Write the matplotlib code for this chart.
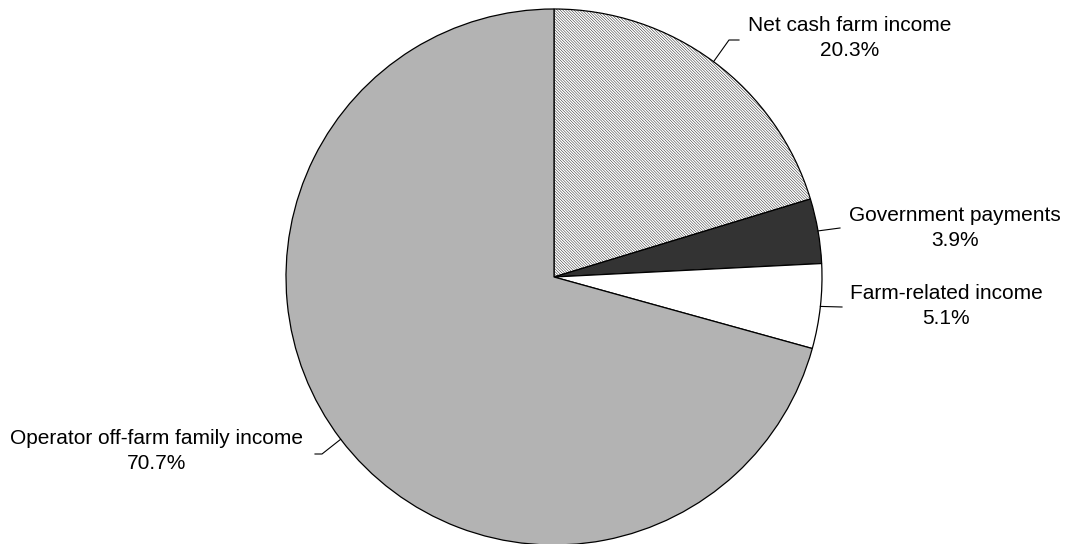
import numpy as np
import matplotlib
matplotlib.use("Agg")
import matplotlib.pyplot as plt

plt.rcParams['font.family'] = ['Liberation Sans', 'DejaVu Sans']
plt.rcParams['hatch.color'] = '#9a9a9a'
plt.rcParams['hatch.linewidth'] = 0.3

categories = ["Net cash farm income", "Government payments", "Farm-related income",
              "Operator off-farm family income"]
values = [20.3, 3.9, 5.1, 70.7]
colors = ["white", "#333333", "white", "#b3b3b3"]
hatches = ["\\" * 12, None, None, None]

W, H = 1066, 544
fig = plt.figure(figsize=(10.66, 5.44), dpi=100)
ax = fig.add_axes([0, 0, 1, 1])

cx, cy, R = 554, H - 277, 268
wedges, _ = ax.pie(values, colors=colors, startangle=90, counterclock=False,
                   center=(cx, cy), radius=R, frame=True,
                   wedgeprops=dict(edgecolor='black', linewidth=0.9))
for w, h in zip(wedges, hatches):
    if h:
        w.set_hatch(h)
ax.set_xlim(0, W)
ax.set_ylim(0, H)
ax.set_aspect('equal')
ax.axis('off')

# label centres and leader elbows in image pixel coords (y down)
label_pos = [(850, 38), (955, 228), (946, 306), (157, 451)]
elbows = [[(729, 40), (739, 40)], [(840, 228)], [(842, 307)], [(322, 454), (315, 454)]]

for w, cat, v, (tx, ty), el in zip(wedges, categories, values, label_pos, elbows):
    ang = np.deg2rad((w.theta1 + w.theta2) / 2)
    ex = cx + R * np.cos(ang)
    ey = cy + R * np.sin(ang)
    xs = [ex] + [p[0] for p in el]
    ys = [ey] + [H - p[1] for p in el]
    ax.plot(xs, ys, color='black', lw=0.8)
    ax.text(tx, H - ty, f"{cat}\n{v}%", ha='center', va='center', fontsize=15,
            linespacing=1.4, color='black')

fig.savefig("out.png", dpi=100)
